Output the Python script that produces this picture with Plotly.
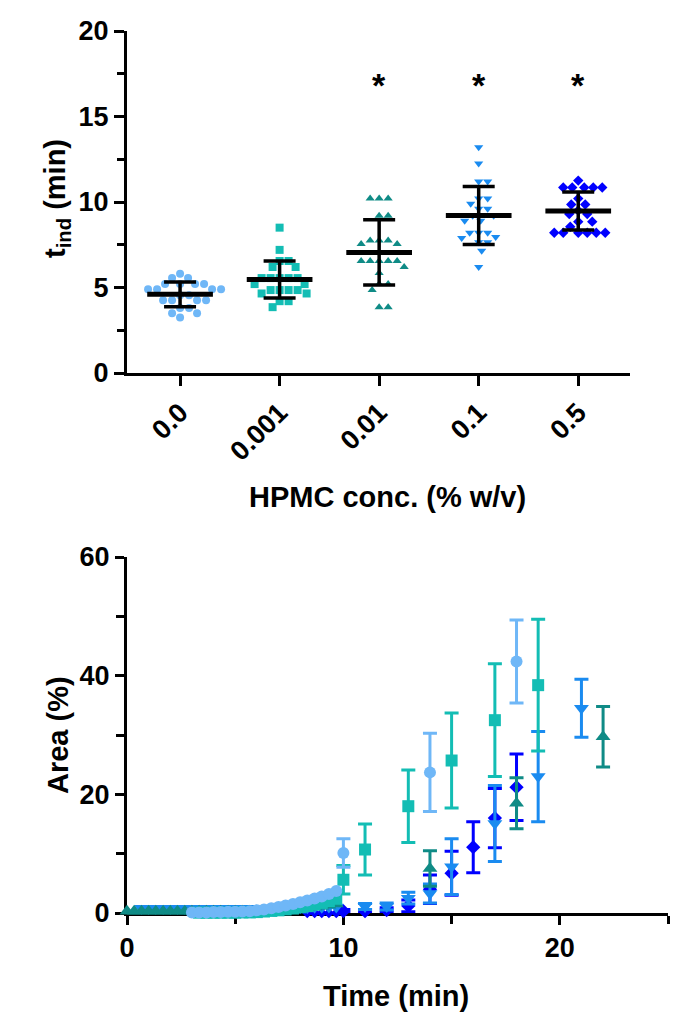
import numpy as np
import plotly.graph_objects as go

# ---------------- data: top panel (induction time per HPMC concentration) -------------
categories = ["0.0", "0.001", "0.01", "0.1", "0.5"]
g0 = [5.8, 5.55, 5.55, 5.2, 5.2, 5.2, 5.2, 4.9, 4.9, 4.9, 4.9, 4.55, 4.55, 4.25, 4.25, 4.25, 4.25, 3.8, 3.8, 3.5, 3.5, 3.25]
g1 = [8.5, 7.2, 6.55, 6.55, 6.2, 6.2, 5.55, 5.55, 5.55, 5.55, 5.55, 5.2, 5.2, 4.85, 4.85, 4.85, 4.85, 4.65, 4.65, 4.2, 4.2, 3.85]
g2 = [10.2, 10.2, 10.2, 9.2, 9.2, 7.75, 7.75, 7.75, 7.55, 7.55, 6.55, 6.55, 6.55, 6.55, 6.55, 6.2, 5.85, 5.2, 5.2, 4.85, 3.85, 3.85]
g3 = [13.2, 12.25, 11.2, 11.2, 10.2, 10.2, 9.9, 9.6, 9.6, 9.2, 9.2, 8.9, 8.9, 8.2, 8.2, 8.2, 7.95, 7.9, 7.65, 7.65, 7.15, 6.2]
g4 = [11.25, 10.85, 10.85, 10.85, 10.85, 10.85, 10.2, 9.85, 9.85, 9.5, 9.3, 9.3, 8.85, 8.85, 8.55, 8.2, 8.2, 8.2, 8.2, 8.2, 8.2]
groups = [g0, g1, g2, g3, g4]
significant = [False, False, True, True, True]
star_level = 16.85

# ---------------- data: bottom panel (area vs time) -------------
# dense early measurements (no error bars)
tA_d = [3.0, 3.33, 3.67, 4.0, 4.33, 4.67, 5.0, 5.33, 5.67, 6.0, 6.33, 6.67, 7.0, 7.33, 7.67, 8.0, 8.33, 8.67, 9.0, 9.33, 9.67]
aA_d = [0.1, 0.1, 0.1, 0.15, 0.15, 0.2, 0.2, 0.25, 0.3, 0.45, 0.6, 0.8, 1.0, 1.25, 1.5, 1.8, 2.1, 2.45, 2.8, 3.2, 3.7]
tB_d = [3.33, 3.67, 4.0, 4.33, 4.67, 5.0, 5.33, 5.67, 6.0, 6.33, 6.67, 7.0, 7.33, 7.67, 8.0, 8.33, 8.67, 9.0, 9.33, 9.67]
aB_d = [0.05, 0.05, 0.05, 0.05, 0.05, 0.05, 0.1, 0.1, 0.15, 0.25, 0.35, 0.45, 0.6, 0.75, 0.95, 1.15, 1.4, 1.7, 2.0, 2.4]
tC_d = [0.0, 0.33, 0.67, 1.0, 1.33, 1.67, 2.0, 2.33, 2.67, 3.0, 3.33, 3.67, 4.0, 4.33, 4.67, 5.0, 5.33, 5.67, 6.0, 6.33, 6.67, 7.0, 7.33, 7.67, 8.0, 8.33, 8.67, 9.0, 9.33, 9.67]
aC_d = [0.3, 0.3, 0.3, 0.3, 0.3, 0.3, 0.3, 0.3, 0.3, 0.3, 0.3, 0.3, 0.3, 0.3, 0.3, 0.3, 0.3, 0.3, 0.35, 0.4, 0.45, 0.5, 0.6, 0.7, 0.8, 0.9, 1.0, 1.15, 1.3, 1.5]
tD_d = [0.67, 1.0, 1.33, 1.67, 2.0, 2.33, 2.67, 3.0, 3.33, 3.67, 4.0, 4.33, 4.67, 5.0, 5.33, 5.67, 6.0, 6.33, 6.67, 7.0, 7.33, 7.67, 8.0, 8.33, 8.67, 9.0, 9.33, 9.67]
aD_d = [0.8, 0.8, 0.8, 0.8, 0.8, 0.8, 0.8, 0.8, 0.8, 0.8, 0.8, 0.8, 0.8, 0.8, 0.8, 0.8, 0.8, 0.8, 0.8, 0.8, 0.85, 0.85, 0.9, 0.9, 0.95, 0.95, 1.0, 1.0]
tE_d = [8.33, 8.67, 9.0, 9.33, 9.67]
aE_d = [0.0, 0.0, 0.0, 0.0, 0.0]

# later measurements (mean +/- SD)
tA = [10, 14, 18]
aA = [10.1, 23.7, 42.4]
eA = [2.4, 6.6, 7.0]
tB = [10, 11, 13, 15, 17, 19]
aB = [5.6, 10.7, 18.0, 25.7, 32.5, 38.4]
eB = [2.4, 4.3, 6.1, 8.0, 9.5, 11.1]
tC = [14, 18, 22]
aC = [7.5, 18.5, 29.7]
eC = [3.0, 4.3, 5.1]
tD = [11, 12, 13, 14, 15, 17, 19, 21]
aD = [1.1, 1.1, 2.5, 3.3, 7.8, 15.1, 23.0, 34.5]
eD = [0.5, 0.6, 1.0, 1.6, 4.7, 6.4, 7.6, 4.9]
tE = [10, 11, 12, 13, 14, 15, 16, 17, 18]
aE = [0.3, 0.3, 0.5, 1.2, 4.0, 6.7, 11.1, 16.0, 21.2]
eE = [0.3, 0.3, 0.4, 1.0, 2.4, 3.7, 4.3, 5.0, 5.6]

# ---------------- styles -------------
colors = ["#6FB7F7", "#13BDB4", "#0F8B86", "#1A8BF0", "#0000FF"]
symbols = ["circle", "square", "triangle-up", "triangle-down", "diamond"]
FONT = "Arial, Liberation Sans, sans-serif"

W, H = 673, 1014
# pixel geometry of the panels
top_l, top_r, top_t, top_b = 127, 630, 31, 373
bot_l, bot_r, bot_t, bot_b = 127, 668, 557, 913
x_range_top = [-0.533, 4.52]
y_range_top = [0, 20]

fig = go.Figure()

# --- beeswarm offsets (layout helper computed from values) ---
px_per_cat = (top_r - top_l) / (x_range_top[1] - x_range_top[0])
px_per_unit = (top_b - top_t) / (y_range_top[1] - y_range_top[0])


def swarm(vals, diam=9.0):
    order = np.argsort(vals)[::-1]
    placed = []
    offs = np.zeros(len(vals))
    cands = [0]
    for k in range(1, 60):
        cands += [k, -k]
    for i in order:
        yp = vals[i] * px_per_unit
        for c in cands:
            if all((c - px) ** 2 + (yp - py) ** 2 >= diam ** 2 for px, py in placed):
                placed.append((c, yp))
                offs[i] = c / px_per_cat
                break
    return offs


for gi, vals in enumerate(groups):
    offs = swarm(np.array(vals))
    fig.add_trace(go.Scatter(
        x=gi + offs, y=vals, mode="markers", xaxis="x", yaxis="y",
        marker=dict(symbol=symbols[gi], color=colors[gi], size=8, line=dict(width=0)),
        showlegend=False, hoverinfo="y"))

means = [float(np.mean(v)) for v in groups]
sds = [float(np.std(v, ddof=1)) for v in groups]
fig.add_trace(go.Scatter(
    x=list(range(len(groups))), y=means, mode="markers", xaxis="x", yaxis="y",
    marker=dict(size=1, color="rgba(0,0,0,0)"),
    error_y=dict(type="data", array=sds, color="black", thickness=3.5, width=16),
    showlegend=False, hoverinfo="skip"))
mx, my = [], []
for i, m in enumerate(means):
    mx += [i - 0.33, i + 0.33, None]
    my += [m, m, None]
fig.add_trace(go.Scatter(x=mx, y=my, mode="lines", xaxis="x", yaxis="y",
                         line=dict(color="black", width=5), showlegend=False, hoverinfo="skip"))

# asterisks
for i, s in enumerate(significant):
    if s:
        fig.add_annotation(x=i, y=star_level, xref="x", yref="y", text="<b>*</b>", showarrow=False,
                           font=dict(family=FONT, size=34, color="black"), yanchor="middle")

# --- bottom panel ---
dense = [(tE_d, aE_d), (tD_d, aD_d), (tC_d, aC_d), (tB_d, aB_d), (tA_d, aA_d)]
sparse = [(tE, aE, eE), (tD, aD, eD), (tC, aC, eC), (tB, aB, eB), (tA, aA, eA)]
sizes = [12, 12, 13, 13, 11]
for k in range(5):
    ci = 4 - k
    t, a, e = sparse[k]
    fig.add_trace(go.Scatter(
        x=t, y=a, mode="markers", xaxis="x2", yaxis="y2", cliponaxis=False,
        marker=dict(symbol=symbols[ci], color=colors[ci], size=sizes[ci], line=dict(width=0)),
        error_y=dict(type="data", array=e, color=colors[ci], thickness=3, width=7),
        showlegend=False))
for k in range(5):
    ci = 4 - k
    t, a = dense[k]
    fig.add_trace(go.Scatter(
        x=t, y=a, mode="markers", xaxis="x2", yaxis="y2", cliponaxis=False,
        marker=dict(symbol=symbols[ci], color=colors[ci], size=sizes[ci] if ci != 4 else 8,
                    line=dict(width=0)),
        showlegend=False))

tickfont = dict(family=FONT, size=27, color="black", weight="bold")
titlefont = dict(family=FONT, size=29, color="black", weight="bold")
axis_common = dict(showline=True, linecolor="black", linewidth=3, ticks="outside",
                   tickcolor="black", tickwidth=3, showgrid=False, zeroline=False,
                   tickfont=tickfont, automargin=False)

fig.update_layout(
    width=W, height=H, margin=dict(l=0, r=0, t=0, b=0, autoexpand=False),
    paper_bgcolor="white", plot_bgcolor="white",
    xaxis=dict(domain=[top_l / W, top_r / W], anchor="y", range=x_range_top,
               tickmode="array", tickvals=list(range(5)), ticktext=categories,
               tickangle=-45, ticklen=10, **axis_common),
    yaxis=dict(domain=[1 - top_b / H, 1 - top_t / H], anchor="x", range=y_range_top,
               dtick=5, ticklen=10,
               minor=dict(dtick=2.5, ticklen=7, tickwidth=3, ticks="outside", tickcolor="black"),
               **axis_common),
    xaxis2=dict(domain=[bot_l / W, bot_r / W], anchor="y2", range=[0, 25],
                dtick=10, ticklen=9, layer="below traces",
                minor=dict(dtick=5, ticklen=8, tickwidth=3, ticks="outside", tickcolor="black"),
                **axis_common),
    yaxis2=dict(domain=[1 - bot_b / H, 1 - bot_t / H], anchor="x2", range=[0, 60],
                dtick=20, ticklen=9, layer="below traces",
                minor=dict(dtick=10, ticklen=8, tickwidth=3, ticks="outside", tickcolor="black"),
                **axis_common),
)

# axis titles as paper annotations (exact placement)
titles = [
    ("HPMC conc. (% w/v)", 388, 497, 0),
    ("t<sub>ind</sub> (min)", 57, 199, -90),
    ("Time (min)", 396, 996, 0),
    ("Area (%)", 58, 735, -90),
]
for text, px, py, ang in titles:
    fig.add_annotation(text=text, x=px / W, y=1 - py / H, xref="paper", yref="paper",
                       showarrow=False, textangle=ang, xanchor="center", yanchor="middle",
                       font=titlefont)

fig.write_html("out.html", config={"displayModeBar": False},
               post_script="document.body.style.margin='0';document.body.style.overflow='hidden';")
